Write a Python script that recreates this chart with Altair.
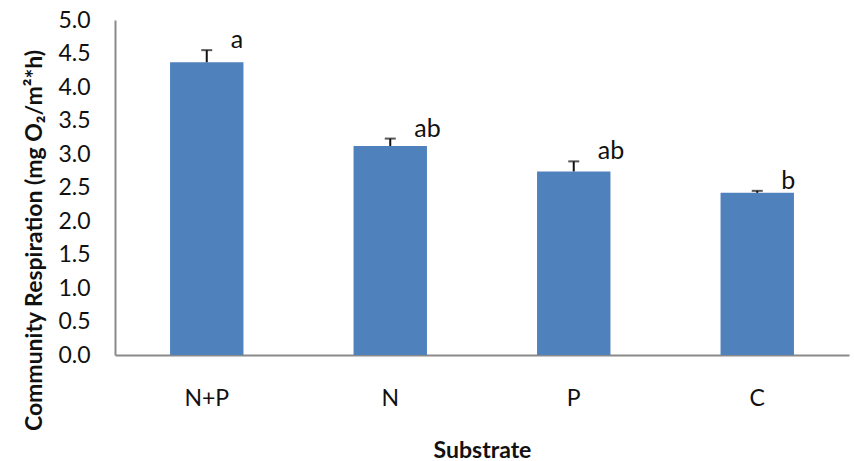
import altair as alt
import pandas as pd

categories = ["N+P", "N", "P", "C"]
means = [4.37, 3.12, 2.74, 2.42]
err_top = [4.55, 3.23, 2.89, 2.45]
letters = ["a", "ab", "ab", "b"]

df = pd.DataFrame({"substrate": categories, "mean": means, "top": err_top, "letter": letters})

FONT = "Lato"
YTITLE = "Community Respiration (mg O₂/m²*h)"
x_axis = alt.Axis(labelAngle=0, labelPadding=50, labelBaseline="alphabetic", ticks=False, tickSize=0,
                  titleY=102, titleBaseline="alphabetic",
                  labelFont=FONT, labelFontSize=23, labelColor="#111111",
                  titleFont=FONT, titleFontSize=23, titleFontWeight="bold", titleColor="#111111",
                  domainColor="#8a8a8a", domainWidth=2)
y_axis = alt.Axis(values=[i * 0.5 for i in range(11)], format=".1f", grid=False,
                  ticks=False, tickSize=0, labelPadding=25, labelOverlap=False,
                  titleX=-74, titleY=220, titleAlign="center", titleBaseline="alphabetic", titleAngle=270,
                  labelFont=FONT, labelFontSize=23, labelColor="#111111",
                  titleFont=FONT, titleFontSize=23, titleFontWeight="bold", titleColor="#111111",
                  domainColor="#8a8a8a", domainWidth=2)
x = alt.X("substrate:N", sort=categories, title="Substrate",
          scale=alt.Scale(paddingInner=0.6, paddingOuter=0.3), axis=x_axis)
yscale = alt.Scale(domain=[0, 5])
y_mean = alt.Y("mean:Q", scale=yscale, axis=y_axis, title=YTITLE)
y_top = alt.Y("top:Q", scale=yscale, axis=y_axis, title=YTITLE)

base = alt.Chart(df)
bars = base.mark_bar(color="#4F81BD").encode(x=x, y=y_mean)
stem = base.mark_rule(color="#111111", strokeWidth=2).encode(x=x, y=y_mean, y2="top:Q")
cap = base.mark_tick(color="#111111", size=11, thickness=2).encode(x=x, y=y_top)
text = base.mark_text(align="left", baseline="bottom", dx=24, dy=3, fontSize=25,
                      font=FONT, color="#111111").encode(x=x, y=y_top, text="letter:N")

chart = (bars + stem + cap + text).properties(
    width=734, height=335,
    autosize=alt.AutoSizeParams(type="none"),
    padding={"left": 115, "top": 20, "right": 5, "bottom": 106},
).configure_view(stroke=None)

chart.save("out.html", embed_options={"renderer": "svg", "actions": False})
